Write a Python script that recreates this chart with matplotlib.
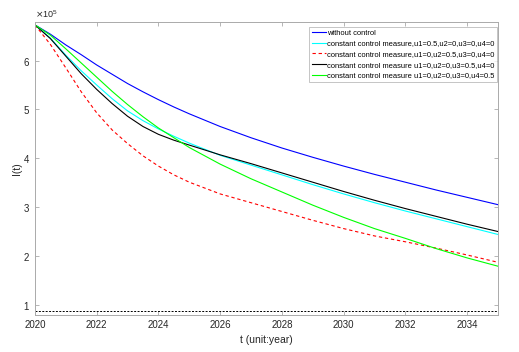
import matplotlib
matplotlib.use('Agg')
import matplotlib.pyplot as plt
import numpy as np
from matplotlib.ticker import ScalarFormatter

plt.rcParams['font.family'] = ['Liberation Sans', 'DejaVu Sans']

# years (half years where the curves bend most)
t = [2020, 2020.5, 2021, 2021.5, 2022, 2022.5, 2023, 2023.5, 2024, 2024.5,
     2025, 2026, 2027, 2028, 2029, 2030, 2031, 2032, 2033, 2034, 2035]

# I(t) in units of 1e5
no_control = [6.73, 6.54, 6.32, 6.12, 5.91, 5.72, 5.53, 5.36, 5.20, 5.05,
              4.91, 4.65, 4.42, 4.21, 4.02, 3.84, 3.67, 3.51, 3.35, 3.20, 3.05]
u1_only = [6.73, 6.46, 6.11, 5.79, 5.50, 5.22, 4.97, 4.77, 4.60, 4.45,
           4.31, 4.06, 3.86, 3.66, 3.46, 3.27, 3.09, 2.92, 2.76, 2.60, 2.44]
u2_only = [6.73, 6.33, 5.85, 5.36, 4.93, 4.58, 4.30, 4.05, 3.84, 3.66,
           3.51, 3.27, 3.09, 2.91, 2.73, 2.56, 2.41, 2.29, 2.16, 2.02, 1.87]
u3_only = [6.73, 6.45, 6.09, 5.73, 5.41, 5.12, 4.86, 4.65, 4.49, 4.37,
           4.27, 4.07, 3.89, 3.70, 3.51, 3.32, 3.14, 2.97, 2.81, 2.65, 2.50]
u4_only = [6.73, 6.52, 6.24, 5.95, 5.66, 5.37, 5.10, 4.85, 4.62, 4.42,
           4.22, 3.88, 3.58, 3.31, 3.04, 2.79, 2.56, 2.36, 2.15, 1.96, 1.79]
baseline = 0.87  # flat dashed line near the bottom

labels = ['without control',
          'constant control measure,u1=0.5,u2=0,u3=0,u4=0',
          'constant control measure,u1=0,u2=0.5,u3=0,u4=0',
          'constant control measure u1=0,u2=0,u3=0.5,u4=0',
          'constant control measure u1=0,u2=0,u3=0,u4=0.5']

scale = 1e5
fig = plt.figure(figsize=(5.19, 3.52), dpi=100)
ax = fig.add_axes([0.0674, 0.105, 0.892, 0.8325])

ax.plot(t, np.array(no_control)*scale, color='#0000ff', lw=0.8, label=labels[0])
ax.plot(t, np.array(u1_only)*scale, color='#00ffff', lw=0.8, label=labels[1])
ax.plot(t, np.array(u2_only)*scale, color='#ff0000', lw=0.8, ls=(0, (3, 2.5)), label=labels[2])
ax.plot(t, np.array(u3_only)*scale, color='#000000', lw=0.8, label=labels[3])
ax.plot(t, np.array(u4_only)*scale, color='#00ff00', lw=0.8, label=labels[4])
ax.plot([t[0], t[-1]], [baseline*scale]*2, color='black', lw=0.7, ls=(0, (2, 1.5)))

ax.set_xlim(2020, 2035)
ax.set_ylim(0.79*scale, 6.79*scale)
ax.set_xticks(range(2020, 2035, 2))
ax.set_yticks(np.arange(1, 7)*scale)

fmt = ScalarFormatter(useMathText=True)
fmt.set_powerlimits((0, 0))
ax.yaxis.set_major_formatter(fmt)
ax.yaxis.get_offset_text().set_fontsize(6.5)
ax.yaxis.get_offset_text().set_color('#333333')

ax.tick_params(direction='in', length=3, width=0.5, color='#999999',
               labelsize=7, labelcolor='#262626', top=True, right=True)
for s in ax.spines.values():
    s.set_color('#aaaaaa')
    s.set_linewidth(0.7)

ax.set_xlabel('t (unit:year)', fontsize=7.5, color='#262626', labelpad=4)
ax.set_ylabel('I(t)', fontsize=7.5, color='#262626', labelpad=1)

leg = ax.legend(loc='upper right', bbox_to_anchor=(0.999, 0.983), fontsize=5.4,
                frameon=True, fancybox=False, handlelength=1.9,
                handletextpad=0.2, borderpad=0.35, labelspacing=0.45,
                borderaxespad=0.0)
leg.get_frame().set_edgecolor('#aaaaaa')
leg.get_frame().set_linewidth(0.6)

fig.savefig('out.png', dpi=100)
